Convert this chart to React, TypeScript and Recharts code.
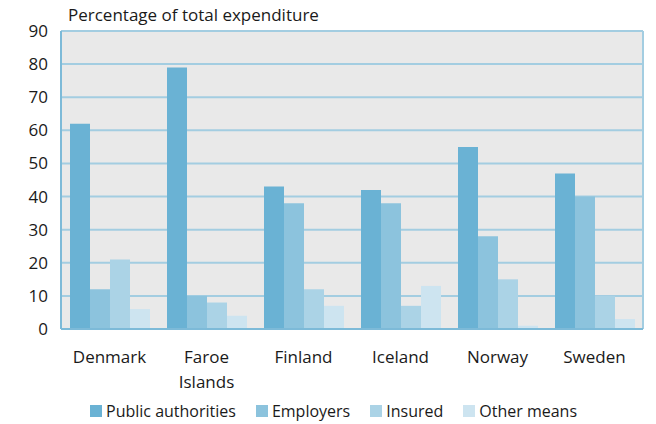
import React from "react";
import {
  Bar,
  BarChart,
  CartesianGrid,
  XAxis,
  YAxis,
} from "recharts";

const countries = ["Denmark", "Faroe Islands", "Finland", "Iceland", "Norway", "Sweden"];
const publicAuthorities = [62, 79, 43, 42, 55, 47];
const employers = [12, 10, 38, 38, 28, 40];
const insured = [21, 8, 12, 7, 15, 10];
const otherMeans = [6, 4, 7, 13, 1, 3];
const yTicks = [0, 10, 20, 30, 40, 50, 60, 70, 80, 90];

const series = [
  { key: "public", name: "Public authorities", color: "#6ab2d4" },
  { key: "employers", name: "Employers", color: "#8cc3dd" },
  { key: "insured", name: "Insured", color: "#abd3e6" },
  { key: "other", name: "Other means", color: "#cde4f0" },
];

const data = countries.map((c, i) => ({
  country: c,
  public: publicAuthorities[i],
  employers: employers[i],
  insured: insured[i],
  other: otherMeans[i],
}));

const FONT = "'Open Sans', sans-serif";

function CountryTick(props: any) {
  const { x, y, payload } = props;
  const words = String(payload.value).split(" ");
  return (
    <text x={x} y={y} textAnchor="middle" fontFamily={FONT} fontSize={17} fill="#1a1a1a">
      {words.map((w, i) => (
        <tspan key={i} x={x} dy={i === 0 ? 26 : 25}>
          {w}
        </tspan>
      ))}
    </text>
  );
}

export default function App() {
  return (
    <div style={{ position: "absolute", left: 0, top: 0, width: 656, height: 424, background: "#fff", fontFamily: FONT }}>
      <div style={{ position: "absolute", left: 68, top: 2, fontSize: 17, lineHeight: "26px", color: "#1a1a1a", whiteSpace: "nowrap" }}>
        Percentage of total expenditure
      </div>
      <BarChart
        width={656}
        height={424}
        data={data}
        margin={{ top: 31, right: 13, left: 0, bottom: 35 }}
        barCategoryGap={9}
        barGap={0}
      >
        <CartesianGrid
          fill="#e9e9e9"
          stroke="#a3cde1"
          strokeWidth={2}
          vertical={true}
          verticalCoordinatesGenerator={({ offset }: any) => [offset.left, offset.left + offset.width]}
        />
        <XAxis
          dataKey="country"
          height={60}
          tickLine={false}
          axisLine={{ stroke: "#7dbad8", strokeWidth: 2 }}
          tick={<CountryTick />}
          interval={0}
        />
        <YAxis
          width={61}
          domain={[0, 90]}
          ticks={yTicks}
          tickLine={false}
          axisLine={{ stroke: "#7dbad8", strokeWidth: 2 }}
          tick={{ fontSize: 17, fill: "#1a1a1a", fontFamily: FONT, dx: -5 }}
        />
        {series.map((s) => (
          <Bar key={s.key} dataKey={s.key} name={s.name} fill={s.color} isAnimationActive={false} />
        ))}
      </BarChart>
      <div
        style={{
          position: "absolute",
          left: 90,
          top: 399,
          display: "flex",
          alignItems: "center",
          fontSize: 16,
          lineHeight: "24px",
          color: "#1a1a1a",
          whiteSpace: "nowrap",
        }}
      >
        {series.map((s, i) => (
          <div key={s.key} style={{ display: "flex", alignItems: "center", marginRight: i < 3 ? 20 : 0 }}>
            <span style={{ display: "inline-block", width: 12, height: 12, background: s.color, marginRight: 4 }} />
            <span>{s.name}</span>
          </div>
        ))}
      </div>
    </div>
  );
}
